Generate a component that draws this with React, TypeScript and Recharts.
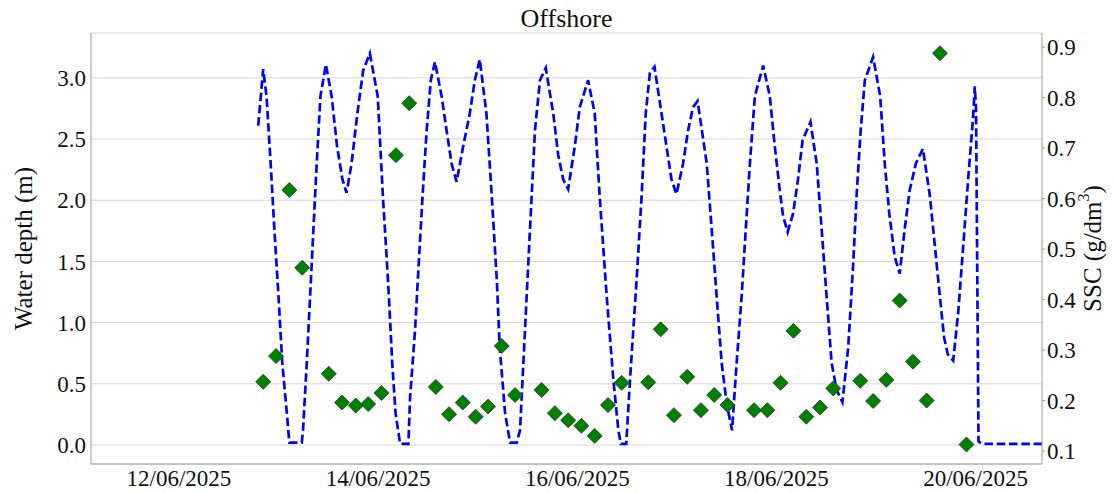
import React from "react";
import {
  ComposedChart,
  Line,
  Scatter,
  XAxis,
  YAxis,
  CartesianGrid,
  Label,
} from "recharts";

// hours after 12/06/2025 00:00
const depthTime = [
  19.1, 20.3, 21.1, 22.1, 23.0, 24.0, 24.9, 26.0, 26.6, 29.6, 29.9, 30.8, 31.6, 32.4, 33.2, 34.1,
  35.4, 36.8, 38.1, 39.4, 40.4, 41.6, 43.0, 44.4, 46.0, 47.9, 49.2, 50.1, 50.6, 51.4, 52.2, 53.3,
  55.3, 55.7, 56.9, 57.8, 58.7, 59.7, 60.7, 61.7, 63.3, 64.5, 65.7, 66.9, 68.5, 70.1, 71.3, 72.5,
  74.1, 75.4, 76.6, 77.3, 78.6, 79.8, 81.4, 82.2, 83.4, 84.2, 85.0, 85.8, 87.0, 88.4, 90.2, 91.4,
  92.6, 93.8, 95.4, 96.6, 98.6, 100.2, 101.4, 103.1, 104.7, 105.9, 106.5, 107.8, 108.7, 110.3,
  111.5, 112.5, 113.5, 114.6, 116.3, 117.5, 118.7, 119.9, 121.5, 122.7, 123.9, 125.0, 127.2,
  128.4, 129.6, 130.8, 132.0, 133.3, 134.4, 135.6, 136.6, 137.6, 138.8, 140.8, 142.4, 143.6,
  144.8, 145.6, 146.7, 148.0, 149.2, 150.3, 152.2, 153.7, 154.9, 156.1, 157.3, 158.5, 159.9,
  161.3, 162.5, 163.3, 164.3, 165.3, 167.3, 169.0, 170.1, 171.2, 172.5, 173.7, 174.9, 176.1,
  177.6, 179.3, 181.0, 182.2, 183.4, 184.4, 185.3, 186.6, 187.8, 189.0, 190.2, 191.4, 191.8,
  192.1, 192.7, 193.5, 208.0,
];
const depthValue = [
  2.61, 3.07, 2.85, 2.3, 1.76, 1.21, 0.67, 0.26, 0.02, 0.02, 0.12, 0.67, 1.21, 1.76, 2.3, 2.85,
  3.11, 2.85, 2.44, 2.17, 2.06, 2.3, 2.71, 3.06, 3.2, 2.85, 2.0, 1.51, 1.21, 0.67, 0.26, 0.01,
  0.01, 0.39, 0.94, 1.49, 2.03, 2.57, 2.98, 3.13, 2.85, 2.57, 2.3, 2.15, 2.44, 2.71, 2.98, 3.15,
  2.71, 2.03, 1.35, 0.8, 0.26, 0.02, 0.02, 0.12, 0.94, 1.49, 2.03, 2.57, 2.98, 3.08, 2.71, 2.37,
  2.17, 2.09, 2.44, 2.76, 2.98, 2.71, 2.03, 1.21, 0.53, 0.12, 0.01, 0.01, 0.53, 1.35,
  2.03, 2.71, 3.04, 3.09, 2.71, 2.44, 2.17, 2.05, 2.3, 2.57, 2.76, 2.81, 2.3,
  1.76, 1.21, 0.67, 0.34, 0.12, 0.67, 1.21, 1.76, 2.3, 2.85, 3.1, 2.85, 2.44,
  2.08, 1.87, 1.74, 1.89, 2.17, 2.49, 2.64, 2.3, 1.76, 1.21, 0.67, 0.45, 0.35,
  0.8, 1.48, 2.03, 2.57, 2.98, 3.17, 2.85, 2.3, 1.89, 1.54, 1.4, 1.76, 2.08,
  2.3, 2.42, 2.03, 1.62, 1.21, 0.88, 0.74, 0.69, 1.08, 1.62, 2.17, 2.68, 2.93,
  2.75, 0.03, 0.01, 0.01,
];

const sscTime = [
  20.3, 23.4, 26.6, 29.7, 36.1, 39.3, 42.6, 45.6, 48.8, 52.3, 55.5, 61.9, 65.1, 68.4, 71.5, 74.5,
  77.8, 81.0, 87.4, 90.6, 93.8, 97.0, 100.2, 103.4, 106.7, 113.1, 116.1, 119.3, 122.5, 125.8,
  129.0, 132.2, 138.6, 141.8, 145.0, 148.1, 151.2, 154.5, 157.7, 164.2, 167.3, 170.5, 173.7,
  176.9, 180.2, 183.4, 189.8,
];
const sscValue = [
  0.237, 0.288, 0.617, 0.463, 0.253, 0.196, 0.19, 0.193, 0.215, 0.686, 0.789, 0.227, 0.173, 0.196,
  0.168, 0.188, 0.308, 0.211, 0.221, 0.175, 0.161, 0.15, 0.13, 0.191, 0.235, 0.236, 0.341, 0.171,
  0.247, 0.181, 0.211, 0.191, 0.181, 0.181, 0.235, 0.338, 0.168, 0.186, 0.224, 0.239, 0.199,
  0.241, 0.398, 0.277, 0.2, 0.888, 0.113,
];

const dateTicks = [0, 48, 96, 144, 192];
const dateLabels = ["12/06/2025", "14/06/2025", "16/06/2025", "18/06/2025", "20/06/2025"];
const depthTicks = [0, 0.5, 1, 1.5, 2, 2.5, 3];
const sscTicks = [0.1, 0.2, 0.3, 0.4, 0.5, 0.6, 0.7, 0.8, 0.9];

const depthData = depthTime.map((t, i) => ({ t, depth: depthValue[i] }));
const sscData = sscTime.map((t, i) => ({ t, ssc: sscValue[i] }));

const FONT = '"Liberation Serif", "Times New Roman", serif';
const SPINE = "#9a9a9a";
const INK = "#111111";
const tickStyle = { fontSize: 23, fill: INK, fontFamily: FONT };

function Diamond(props: any) {
  const { cx, cy } = props;
  if (cx == null || cy == null) return null;
  const r = 7.5;
  return (
    <polygon
      points={`${cx},${cy - r} ${cx + r},${cy} ${cx},${cy + r} ${cx - r},${cy}`}
      fill="#008000"
      stroke="#1d3a1d"
      strokeWidth={0.8}
    />
  );
}

function LeftTitle(props: any) {
  const vb = props.viewBox;
  const x = vb.x + 12;
  const y = vb.y + vb.height / 2;
  return (
    <text
      x={x}
      y={y}
      transform={`rotate(-90 ${x} ${y})`}
      textAnchor="middle"
      dominantBaseline="central"
      fontFamily={FONT}
      fontSize={25}
      fill={INK}
    >
      Water depth (m)
    </text>
  );
}

function RightTitle(props: any) {
  const vb = props.viewBox;
  const x = vb.x + 50;
  const y = vb.y + vb.height / 2;
  return (
    <text
      x={x}
      y={y}
      transform={`rotate(-90 ${x} ${y})`}
      textAnchor="middle"
      dominantBaseline="central"
      fontFamily={FONT}
      fontSize={25}
      fill={INK}
    >
      SSC (g/dm
      <tspan fontSize={16} dy={-9}>
        3
      </tspan>
      <tspan dy={9}>)</tspan>
    </text>
  );
}

export default function App() {
  return (
    <div style={{ position: "absolute", left: 0, top: 0, width: 1113, height: 493, background: "#fff" }}>
      <div
        style={{
          position: "absolute",
          left: 91,
          width: 951,
          top: 2,
          textAlign: "center",
          fontFamily: FONT,
          fontSize: 26,
          color: INK,
          lineHeight: "34px",
        }}
      >
        Offshore
      </div>
      <ComposedChart width={1113} height={493} margin={{ top: 33, right: 11, bottom: 0, left: 11 }}>
        <CartesianGrid yAxisId="depth" vertical={false} stroke="#d6d6d6" />
        <XAxis
          dataKey="t"
          type="number"
          domain={[-21.2, 208]}
          allowDataOverflow
          ticks={dateTicks}
          tickFormatter={(v) => dateLabels[dateTicks.indexOf(v)] ?? ""}
          height={29}
          tickSize={4}
          tickMargin={2}
          tickLine={false}
          axisLine={{ stroke: SPINE }}
          tick={tickStyle}
        />
        <XAxis
          xAxisId="top"
          orientation="top"
          type="number"
          domain={[-21.2, 208]}
          height={0}
          tick={false}
          tickLine={false}
          axisLine={{ stroke: SPINE }}
        />
        <YAxis
          yAxisId="depth"
          type="number"
          domain={[-0.155, 3.366]}
          allowDataOverflow
          ticks={depthTicks}
          tickFormatter={(v) => v.toFixed(1)}
          width={80}
          tickSize={3}
          tickMargin={2}
          tickLine={false}
          axisLine={{ stroke: SPINE }}
          tick={tickStyle}
        >
          <Label content={LeftTitle} />
        </YAxis>
        <YAxis
          yAxisId="ssc"
          orientation="right"
          type="number"
          domain={[0.0743, 0.928]}
          allowDataOverflow
          ticks={sscTicks}
          tickFormatter={(v) => v.toFixed(1)}
          width={60}
          tickSize={3}
          tickMargin={2}
          tickLine={{ stroke: SPINE }}
          axisLine={{ stroke: SPINE }}
          tick={tickStyle}
        >
          <Label content={RightTitle} />
        </YAxis>
        <Line
          yAxisId="depth"
          data={depthData}
          dataKey="depth"
          type="linear"
          stroke="#0000ff"
          strokeWidth={2.7}
          strokeDasharray="8.5 3.8"
          dot={false}
          activeDot={false}
          isAnimationActive={false}
        />
        <Scatter
          yAxisId="ssc"
          data={sscData}
          dataKey="ssc"
          shape={Diamond}
          isAnimationActive={false}
        />
      </ComposedChart>
    </div>
  );
}
